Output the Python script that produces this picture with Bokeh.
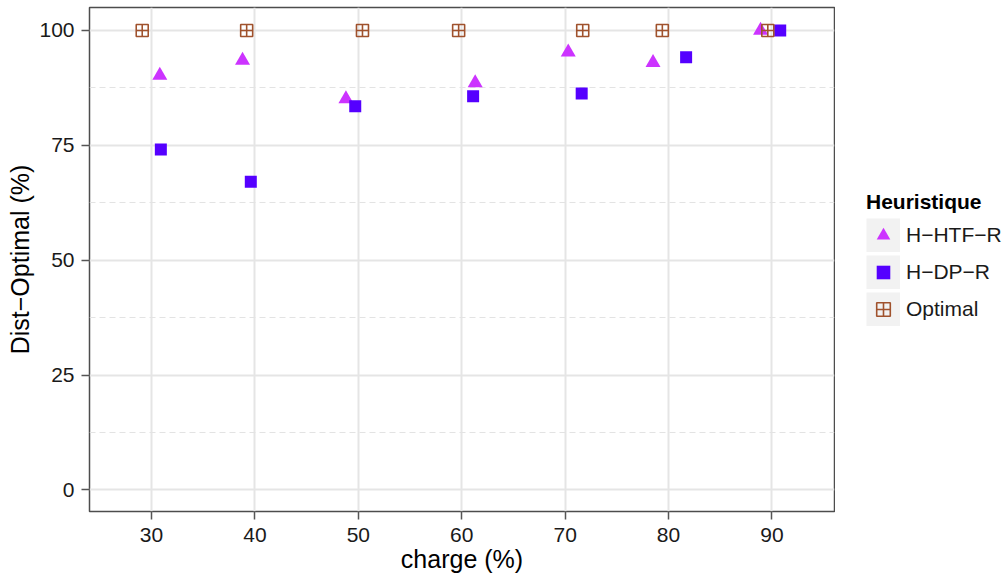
import math
from bokeh.plotting import figure
from bokeh.models import Legend, LegendItem, FixedTicker, Range1d
from bokeh.layouts import row
from bokeh.embed import file_html
from bokeh.resources import INLINE

# Data
charge_htf = [30.8, 38.8, 48.8, 61.3, 70.3, 78.5, 88.9]
dist_htf = [90.2, 93.5, 85.1, 88.6, 95.3, 93.0, 100.0]
charge_dp = [30.9, 39.6, 49.7, 61.1, 71.6, 81.7, 90.8]
dist_dp = [74.1, 67.1, 83.5, 85.7, 86.3, 94.2, 100.0]
charge_opt = [29.1, 39.2, 50.4, 59.7, 71.7, 79.4, 89.6]
dist_opt = [100.0, 100.0, 100.0, 100.0, 100.0, 100.0, 100.0]

x_ticks = [30, 40, 50, 60, 70, 80, 90]
y_ticks = [0, 25, 50, 75, 100]
y_minor = [12.5, 37.5, 62.5, 87.5]

series_labels = ["H\u2212HTF\u2212R", "H\u2212DP\u2212R", "Optimal"]
series_markers = ["triangle", "square", "square_cross"]
series_colors = ["#CC33FF", "#5500FF", "#A0522D"]
legend_title = "Heuristique"
x_title = "charge (%)"
y_title = "Dist\u2212Optimal (%)"

FONT = "Liberation Sans"
H = 576

p = figure(width=835, height=H,
           x_range=Range1d(24.0, 96.05), y_range=Range1d(-4.68, 105.0),
           output_backend="svg", toolbar_location=None,
           min_border_left=89, min_border_right=1,
           min_border_top=7, min_border_bottom=65,
           background_fill_color="white", border_fill_color="white",
           outline_line_color="#4D4D4D", outline_line_width=1.5)

# axes
p.xaxis.ticker = FixedTicker(ticks=x_ticks)
p.yaxis.ticker = FixedTicker(ticks=y_ticks, minor_ticks=y_minor)
p.xaxis.axis_label = x_title
p.yaxis.axis_label = y_title
for ax in (p.xaxis, p.yaxis):
    ax.axis_line_color = None
    ax.major_tick_line_color = "#555555"
    ax.major_tick_line_width = 1.5
    ax.major_tick_in = 0
    ax.major_tick_out = 8
    ax.minor_tick_line_color = None
    ax.major_label_text_font = FONT
    ax.major_label_text_font_size = "21px"
    ax.major_label_text_color = "#1A1A1A"
    ax.axis_label_text_font = FONT
    ax.axis_label_text_font_size = "25px"
    ax.axis_label_text_font_style = "normal"
    ax.axis_label_text_color = "black"
p.xaxis.major_label_standoff = 8
p.xaxis.axis_label_standoff = 0
p.yaxis.major_label_standoff = 7
p.yaxis.axis_label_standoff = 2

# grids
p.xgrid.grid_line_color = "#E5E5E5"
p.xgrid.grid_line_width = 2
p.ygrid.grid_line_color = "#E5E5E5"
p.ygrid.grid_line_width = 2
p.ygrid.minor_grid_line_color = "#E3E3E3"
p.ygrid.minor_grid_line_width = 1.2
p.ygrid.minor_grid_line_dash = "6 4"

p.scatter(charge_htf, dist_htf, marker=series_markers[0], size=15,
          fill_color=series_colors[0], line_color=None)
p.scatter(charge_dp, dist_dp, marker=series_markers[1], size=12,
          fill_color=series_colors[1], line_color=None)
p.scatter(charge_opt, dist_opt, marker=series_markers[2], size=12,
          fill_color=None, line_color=series_colors[2], line_width=1.6)

# legend panel (separate figure to the right of the plot)
lf = figure(width=168, height=H, x_range=Range1d(0, 1), y_range=Range1d(0, 1),
            output_backend="svg", toolbar_location=None,
            x_axis_type=None, y_axis_type=None,
            min_border_left=0, min_border_right=0,
            min_border_top=0, min_border_bottom=0,
            outline_line_color=None, background_fill_color="white",
            border_fill_color="white")
lf.grid.visible = False

nan = [math.nan]
key_bg = lf.line(x=nan, y=nan, line_color="#F2F2F2", line_width=34)
l_htf = lf.scatter(x=nan, y=nan, marker=series_markers[0],
                   fill_color=series_colors[0], line_color=None)
l_dp = lf.scatter(x=nan, y=nan, marker=series_markers[1],
                  fill_color=series_colors[1], line_color=None)
l_opt = lf.scatter(x=nan, y=nan, marker=series_markers[2], fill_color=None,
                   line_color=series_colors[2], line_width=1.6)

legend = Legend(
    items=[LegendItem(label=series_labels[0], renderers=[key_bg, l_htf]),
           LegendItem(label=series_labels[1], renderers=[key_bg, l_dp]),
           LegendItem(label=series_labels[2], renderers=[key_bg, l_opt])],
    location=(31, 185),
    title=legend_title,
    title_text_font=FONT, title_text_font_size="21px",
    title_text_font_style="bold", title_text_color="black",
    label_text_font=FONT, label_text_font_size="21px",
    label_text_color="#1A1A1A",
    glyph_width=34, glyph_height=34, spacing=3,
    padding=0, margin=0, label_standoff=6, title_standoff=4,
    background_fill_alpha=0, border_line_color=None,
)
lf.add_layout(legend)

layout = row(p, lf, spacing=0)
open("out.html", "w").write(file_html(layout, INLINE))
